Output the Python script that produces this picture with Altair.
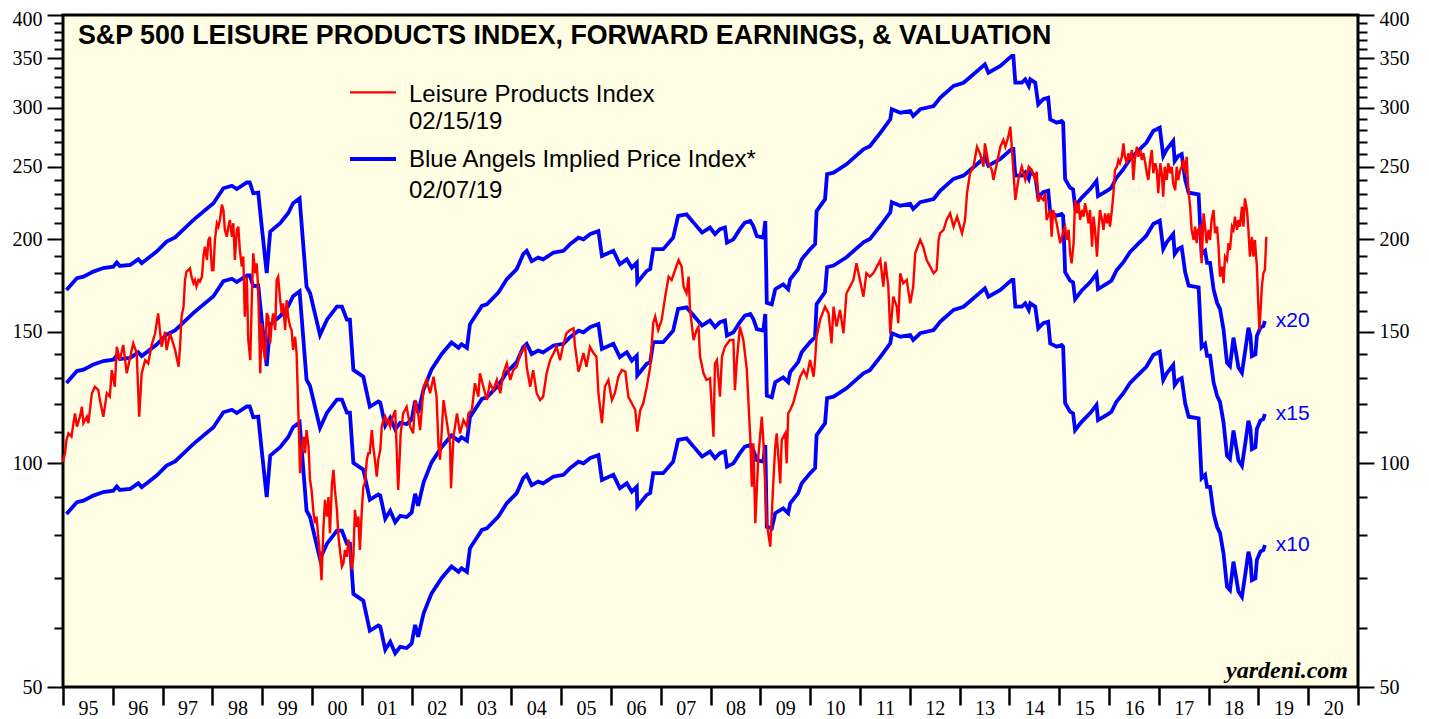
import altair as alt
import pandas as pd

TITLE = "S&P 500 LEISURE PRODUCTS INDEX, FORWARD EARNINGS, & VALUATION"
RED_LABEL = "Leisure Products Index"
RED_DATE = "02/15/19"
BLUE_LABEL = "Blue Angels Implied Price Index*"
BLUE_DATE = "02/07/19"
SOURCE = "yardeni.com"

# S&P 500 Leisure Products Index: (decimal year, index level)
red_points = [
    (1995.00, 100.4), (1995.04, 103.1), (1995.07, 107.4), (1995.11, 109.6), (1995.17, 108.5),
    (1995.24, 116.6), (1995.28, 111.9), (1995.34, 115.4), (1995.38, 119.0), (1995.41, 113.1),
    (1995.48, 115.4), (1995.51, 113.1), (1995.58, 124.1), (1995.64, 126.6), (1995.71, 125.3),
    (1995.74, 121.5), (1995.81, 115.4), (1995.88, 124.1), (1995.94, 122.8), (1995.98, 133.3),
    (1996.04, 126.6), (1996.08, 143.3), (1996.14, 137.5), (1996.21, 144.1), (1996.28, 132.0),
    (1996.35, 138.9), (1996.41, 144.8), (1996.48, 140.4), (1996.53, 115.4), (1996.58, 132.0),
    (1996.65, 137.5), (1996.71, 136.1), (1996.78, 144.1), (1996.85, 149.4), (1996.91, 158.9),
    (1996.98, 143.3), (1997.05, 150.1), (1997.08, 141.9), (1997.15, 149.4), (1997.25, 141.9),
    (1997.32, 134.7),
    (1997.35, 143.3), (1997.38, 157.3), (1997.42, 162.2), (1997.45, 176.2), (1997.48, 180.8),
    (1997.52, 181.7), (1997.55, 182.6), (1997.58, 178.0), (1997.62, 174.4), (1997.65, 176.2),
    (1997.68, 172.6), (1997.72, 176.2), (1997.75, 175.3), (1997.79, 178.0), (1997.82, 189.4),
    (1997.85, 195.3), (1997.89, 187.4), (1997.92, 199.4), (1997.95, 201.4), (1997.99, 181.7),
    (1998.02, 181.7), (1998.05, 199.4), (1998.09, 210.0), (1998.12, 207.8), (1998.15, 212.1),
    (1998.19, 222.4), (1998.22, 218.8), (1998.25, 205.7), (1998.29, 201.4), (1998.32, 207.8),
    (1998.35, 212.1), (1998.39, 201.4), (1998.42, 210.0), (1998.45, 187.4), (1998.49, 205.7),
    (1998.52, 207.8), (1998.55, 193.3), (1998.59, 183.6), (1998.62, 189.4), (1998.65, 157.3),
    (1998.69, 178.0), (1998.72, 146.3), (1998.76, 137.5), (1998.79, 165.6), (1998.82, 191.3),
    (1998.86, 179.9), (1998.89, 185.5), (1998.92, 170.8), (1998.96, 132.0), (1998.99, 154.1),
    (1999.02, 143.3), (1999.06, 137.5), (1999.09, 158.9), (1999.12, 157.3), (1999.16, 144.8),
    (1999.19, 154.1), (1999.22, 158.9), (1999.26, 150.9), (1999.29, 176.2), (1999.32, 178.0),
    (1999.36, 165.6), (1999.39, 158.9), (1999.42, 163.9), (1999.46, 150.9), (1999.49, 165.6),
    (1999.52, 157.3), (1999.56, 152.5), (1999.59, 150.9), (1999.62, 141.9), (1999.66, 147.8),
    (1999.69, 140.4), (1999.72, 120.3), (1999.76, 96.9), (1999.79, 104.1), (1999.83, 108.5),
    (1999.86, 103.1), (1999.89, 110.7), (1999.93, 105.2), (1999.96, 94.9), (1999.99, 92.0),
    (2000.03, 85.6), (2000.06, 83.0), (2000.09, 84.7), (2000.13, 78.9), (2000.16, 74.8),
    (2000.19, 69.6), (2000.23, 82.1), (2000.26, 89.2), (2000.30, 84.7), (2000.33, 90.0),
    (2000.36, 80.5), (2000.40, 93.9), (2000.43, 97.9), (2000.46, 92.0), (2000.50, 86.5),
    (2000.53, 79.7), (2000.56, 76.4), (2000.60, 72.6), (2000.63, 73.3), (2000.66, 76.4),
    (2000.70, 74.8), (2000.73, 78.9), (2000.76, 76.4), (2000.80, 71.9), (2000.83, 74.8),
    (2000.86, 86.5), (2000.90, 82.1), (2000.93, 84.7), (2000.96, 76.4), (2001.00, 86.5),
    (2001.03, 93.0), (2001.06, 93.9), (2001.10, 101.0), (2001.13, 103.1), (2001.16, 103.1),
    (2001.20, 110.7), (2001.23, 105.2), (2001.27, 99.9), (2001.30, 95.9), (2001.33, 101.0),
    (2001.37, 104.1), (2001.40, 111.9), (2001.43, 114.2), (2001.47, 115.4), (2001.50, 113.1),
    (2001.53, 114.2), (2001.57, 111.9),
    (2001.60, 114.2), (2001.67, 117.8), (2001.73, 92.0), (2001.78, 109.6), (2001.83, 116.6),
    (2001.90, 119.0), (2001.97, 111.9), (2002.03, 109.6), (2002.07, 121.5), (2002.13, 116.6),
    (2002.17, 110.7), (2002.24, 126.6), (2002.30, 129.3), (2002.37, 124.1), (2002.44, 130.6),
    (2002.50, 122.8), (2002.54, 105.2), (2002.57, 101.0), (2002.64, 121.5), (2002.70, 114.2),
    (2002.77, 106.3), (2002.79, 92.5), (2002.84, 108.5), (2002.91, 116.6), (2002.97, 109.6),
    (2003.04, 114.2), (2003.11, 111.9), (2003.14, 116.6), (2003.21, 117.8), (2003.27, 128.0),
    (2003.34, 122.8), (2003.37, 132.0), (2003.44, 126.6), (2003.51, 121.5), (2003.57, 128.0),
    (2003.64, 125.3), (2003.71, 129.3), (2003.78, 124.1), (2003.84, 132.0), (2003.91, 136.1),
    (2003.98, 129.3), (2004.04, 133.3), (2004.11, 134.7), (2004.18, 140.5), (2004.24, 141.9),
    (2004.28, 143.3), (2004.31, 134.7), (2004.38, 126.6), (2004.44, 133.3), (2004.51, 124.1),
    (2004.58, 121.5), (2004.64, 122.8), (2004.71, 132.0), (2004.78, 137.5), (2004.85, 140.5),
    (2004.91, 143.3), (2004.98, 137.5), (2005.05, 144.8), (2005.11, 149.4), (2005.18, 150.9),
    (2005.25, 151.7), (2005.28, 143.3), (2005.35, 132.7), (2005.38, 134.7), (2005.45, 140.5),
    (2005.51, 134.7), (2005.58, 143.3), (2005.65, 140.5), (2005.71, 138.9), (2005.75, 124.1),
    (2005.82, 113.1), (2005.88, 126.6), (2005.95, 129.3), (2006.02, 121.5), (2006.08, 124.1),
    (2006.15, 130.6), (2006.22, 133.3), (2006.29, 132.7), (2006.35, 122.8), (2006.42, 120.3),
    (2006.49, 117.8), (2006.53, 110.2), (2006.59, 117.8), (2006.65, 120.3), (2006.72, 126.6),
    (2006.79, 134.7), (2006.85, 154.1), (2006.89, 157.3), (2006.95, 150.9), (2007.02, 155.7),
    (2007.09, 167.3), (2007.16, 178.0), (2007.22, 176.2), (2007.29, 181.7), (2007.36, 187.4),
    (2007.42, 183.6), (2007.46, 172.6), (2007.52, 169.1), (2007.56, 178.0), (2007.59, 160.6),
    (2007.66, 146.3), (2007.72, 150.9), (2007.76, 152.5), (2007.79, 138.9), (2007.86, 132.0),
    (2007.92, 129.3), (2007.99, 130.0), (2008.06, 108.5), (2008.09, 136.1), (2008.13, 137.5),
    (2008.19, 122.8), (2008.23, 138.9), (2008.29, 143.3), (2008.39, 146.3), (2008.46, 146.3),
    (2008.49, 125.3), (2008.53, 137.5), (2008.59, 152.5), (2008.66, 146.3), (2008.73, 133.3),
    (2008.80, 107.4), (2008.83, 92.9), (2008.86, 106.3), (2008.90, 83.0), (2008.96, 102.0),
    (2009.03, 115.4), (2009.06, 107.4), (2009.13, 83.0), (2009.20, 77.2), (2009.26, 93.9),
    (2009.30, 105.2), (2009.33, 109.6), (2009.40, 93.9), (2009.43, 107.4), (2009.50, 109.6),
    (2009.53, 99.9), (2009.56, 116.6), (2009.60, 117.8), (2009.66, 120.3), (2009.73, 125.3),
    (2009.80, 130.6), (2009.87, 133.3), (2009.93, 130.6), (2010.00, 137.5), (2010.07, 130.6),
    (2010.10, 137.5), (2010.13, 147.8), (2010.20, 155.7), (2010.30, 162.2), (2010.37, 158.9),
    (2010.43, 144.8), (2010.47, 162.2), (2010.53, 152.5), (2010.60, 160.6), (2010.67, 149.4),
    (2010.73, 169.1), (2010.80, 172.6), (2010.87, 176.2), (2010.93, 185.5), (2011.00, 176.2),
    (2011.07, 167.3), (2011.13, 179.9), (2011.20, 178.0), (2011.27, 179.9), (2011.34, 183.6),
    (2011.41, 187.4), (2011.47, 172.6), (2011.51, 186.4), (2011.57, 172.6), (2011.61, 149.4),
    (2011.67, 167.3), (2011.74, 162.2), (2011.77, 154.1), (2011.81, 179.9), (2011.87, 174.4),
    (2011.94, 176.2), (2012.01, 163.9), (2012.07, 172.6), (2012.11, 191.3), (2012.21, 199.4),
    (2012.27, 195.3), (2012.34, 187.4), (2012.41, 183.6), (2012.48, 179.9), (2012.54, 181.7),
    (2012.58, 199.4), (2012.61, 203.6), (2012.68, 205.7), (2012.74, 212.1), (2012.81, 216.5),
    (2012.88, 207.8), (2012.95, 214.3), (2013.01, 207.8), (2013.05, 203.6), (2013.11, 212.1),
    (2013.15, 230.4), (2013.21, 245.1), (2013.28, 250.1), (2013.35, 266.1), (2013.41, 260.7),
    (2013.48, 250.1), (2013.51, 268.9), (2013.58, 252.8), (2013.65, 247.6), (2013.68, 240.1),
    (2013.75, 252.8), (2013.82, 266.1), (2013.88, 271.7), (2013.92, 266.1), (2013.98, 274.5),
    (2014.02, 283.1), (2014.08, 247.6), (2014.12, 225.7), (2014.18, 240.1), (2014.25, 250.1),
    (2014.32, 240.1), (2014.39, 250.1), (2014.45, 247.6), (2014.52, 240.1), (2014.55, 246.3),
    (2014.58, 224.5), (2014.62, 228.0), (2014.68, 225.7), (2014.72, 230.4), (2014.75, 212.1),
    (2014.82, 218.8), (2014.85, 201.4), (2014.88, 218.8), (2014.95, 210.0),
    (2015.02, 197.4), (2015.09, 205.7), (2015.12, 207.8), (2015.15, 199.4), (2015.19, 205.7),
    (2015.22, 191.3), (2015.25, 185.5), (2015.29, 197.4), (2015.32, 225.7), (2015.36, 216.5),
    (2015.39, 223.4), (2015.42, 212.1), (2015.46, 218.8), (2015.49, 214.3), (2015.52, 223.4),
    (2015.56, 216.5), (2015.59, 210.0), (2015.62, 218.8), (2015.66, 195.3), (2015.69, 214.3),
    (2015.72, 205.7), (2015.76, 189.4), (2015.79, 205.7), (2015.82, 218.8), (2015.86, 212.1),
    (2015.89, 205.7), (2015.92, 216.5), (2015.96, 210.0), (2015.99, 216.5), (2016.02, 207.8),
    (2016.06, 218.8), (2016.09, 230.4), (2016.12, 247.6), (2016.16, 250.1), (2016.19, 255.4),
    (2016.22, 252.8), (2016.26, 258.0), (2016.29, 268.9), (2016.32, 258.0), (2016.36, 252.8),
    (2016.39, 260.7), (2016.42, 255.4), (2016.46, 263.4), (2016.49, 240.1), (2016.52, 255.4),
    (2016.56, 266.1), (2016.59, 258.0), (2016.63, 263.4), (2016.66, 255.4), (2016.69, 260.7),
    (2016.73, 252.8), (2016.76, 245.1), (2016.79, 240.1), (2016.83, 255.4), (2016.86, 263.4),
    (2016.89, 245.1), (2016.93, 252.8), (2016.96, 247.6), (2016.99, 230.4), (2017.03, 252.8),
    (2017.06, 245.1), (2017.09, 228.0), (2017.12, 250.1), (2017.16, 240.1), (2017.19, 252.8),
    (2017.23, 245.1), (2017.26, 250.1), (2017.29, 237.6), (2017.33, 232.7), (2017.36, 250.1),
    (2017.39, 240.1), (2017.43, 247.6), (2017.46, 250.1), (2017.49, 255.4), (2017.53, 245.1),
    (2017.56, 258.0), (2017.59, 235.1), (2017.63, 221.0), (2017.66, 205.7), (2017.70, 199.4),
    (2017.73, 207.8), (2017.76, 197.4), (2017.79, 205.7), (2017.83, 207.8), (2017.86, 185.5),
    (2017.90, 216.5), (2017.93, 207.8), (2017.96, 197.4), (2018.00, 205.7), (2018.03, 199.4),
    (2018.06, 212.1), (2018.10, 218.8), (2018.13, 203.6), (2018.17, 207.8), (2018.20, 195.3),
    (2018.23, 178.0), (2018.27, 183.6), (2018.30, 174.4), (2018.33, 189.4), (2018.37, 187.4),
    (2018.40, 197.4), (2018.43, 193.3), (2018.47, 207.8), (2018.50, 205.7), (2018.53, 214.3),
    (2018.57, 205.7), (2018.60, 212.1), (2018.63, 207.8), (2018.67, 221.0), (2018.70, 207.8),
    (2018.73, 226.8), (2018.77, 218.8), (2018.80, 205.7), (2018.83, 189.4), (2018.87, 201.4),
    (2018.90, 189.4), (2018.93, 199.4), (2018.97, 183.6), (2019.00, 162.2), (2019.02, 151.0),
    (2019.05, 163.0), (2019.07, 172.6), (2019.10, 179.9), (2019.13, 181.7), (2019.16, 201.4),
]

# Forward earnings per share: (decimal year, EPS), read from the x10 / x20 lines
eps_points = [
    (1995.07, 8.54), (1995.28, 8.86), (1995.41, 8.90), (1995.61, 9.04), (1995.81, 9.14),
    (1996.01, 9.18), (1996.08, 9.30), (1996.14, 9.20), (1996.35, 9.23), (1996.51, 9.39),
    (1996.58, 9.28), (1996.88, 9.62), (1997.08, 9.92), (1997.25, 10.05), (1997.62, 10.61),
    (1998.02, 11.17), (1998.22, 11.70), (1998.39, 11.79), (1998.49, 11.67), (1998.69, 11.91),
    (1998.75, 11.91), (1998.82, 11.52), (1998.92, 11.54), (1998.99, 10.39), (1999.09, 9.00),
    (1999.16, 10.23), (1999.36, 10.50), (1999.52, 10.83), (1999.62, 11.17), (1999.75, 11.34),
    (1999.89, 8.63), (1999.96, 8.46), (2000.16, 7.43), (2000.30, 7.79), (2000.50, 8.11),
    (2000.60, 8.11), (2000.70, 7.79), (2000.76, 7.79), (2000.83, 6.67), (2001.03, 6.53),
    (2001.16, 5.95), (2001.33, 6.05), (2001.37, 6.03), (2001.47, 5.61), (2001.57, 5.75),
    (2001.67, 5.55), (2001.77, 5.66), (2001.90, 5.64), (2002.00, 5.72), (2002.07, 6.06),
    (2002.13, 5.84), (2002.24, 6.28), (2002.40, 6.68), (2002.60, 7.00), (2002.80, 7.26),
    (2002.94, 7.14), (2003.00, 7.22), (2003.11, 7.14), (2003.17, 7.68), (2003.41, 8.13),
    (2003.51, 8.17), (2003.74, 8.47), (2003.91, 8.83), (2004.11, 9.11), (2004.24, 9.54),
    (2004.31, 9.64), (2004.41, 9.34), (2004.54, 9.44), (2004.64, 9.39), (2004.85, 9.59),
    (2005.05, 9.64), (2005.18, 9.84), (2005.35, 10.04), (2005.45, 9.99), (2005.58, 10.15),
    (2005.75, 10.25), (2005.82, 9.49), (2006.05, 9.64), (2006.18, 9.25), (2006.32, 9.39),
    (2006.42, 9.15), (2006.52, 9.29), (2006.53, 8.74), (2006.72, 9.06), (2006.79, 9.11),
    (2006.85, 9.69), (2007.05, 9.69), (2007.25, 10.04), (2007.35, 10.74), (2007.52, 10.79),
    (2007.66, 10.52), (2007.83, 10.20), (2007.99, 10.36), (2008.09, 10.15), (2008.19, 10.31),
    (2008.29, 10.36), (2008.33, 9.89), (2008.46, 9.99), (2008.59, 10.31), (2008.69, 10.52),
    (2008.80, 10.57), (2008.86, 10.41), (2008.93, 10.09), (2009.06, 10.04), (2009.10, 10.57),
    (2009.13, 8.21), (2009.23, 8.17), (2009.30, 8.56), (2009.46, 8.69), (2009.56, 8.56),
    (2009.60, 8.83), (2009.76, 9.11), (2009.83, 9.39), (2010.00, 9.69), (2010.10, 9.84),
    (2010.13, 10.90), (2010.30, 11.31), (2010.34, 12.22), (2010.47, 12.28), (2010.73, 12.60),
    (2011.07, 13.20), (2011.20, 13.33), (2011.41, 13.89), (2011.61, 14.48), (2011.64, 14.94),
    (2011.81, 14.78), (2012.01, 14.86), (2012.07, 14.63), (2012.21, 14.94), (2012.48, 15.09),
    (2012.61, 15.48), (2012.88, 16.06), (2013.08, 16.22), (2013.28, 16.65), (2013.51, 17.17),
    (2013.58, 16.73), (2013.82, 17.08), (2014.05, 17.62), (2014.08, 17.62), (2014.12, 16.22),
    (2014.25, 16.22), (2014.32, 16.39), (2014.39, 16.06), (2014.42, 16.39), (2014.52, 16.22),
    (2014.58, 15.17), (2014.68, 15.41), (2014.78, 15.48), (2014.82, 14.48), (2014.95, 14.33),
    (2015.05, 14.41), (2015.08, 14.33), (2015.12, 12.03), (2015.22, 11.72), (2015.28, 11.66),
    (2015.32, 11.07), (2015.45, 11.36), (2015.62, 11.66), (2015.75, 11.97), (2015.78, 11.42),
    (2015.95, 11.60), (2016.05, 11.72), (2016.15, 12.09), (2016.29, 12.41), (2016.42, 12.80),
    (2016.52, 13.00), (2016.75, 13.47), (2016.89, 13.97), (2017.02, 14.11), (2017.09, 12.93),
    (2017.16, 13.20), (2017.29, 13.54), (2017.32, 12.73), (2017.39, 12.93), (2017.46, 13.00),
    (2017.53, 12.03), (2017.60, 11.54), (2017.80, 11.48), (2017.86, 9.54), (2017.93, 9.64),
    (2017.97, 9.29), (2018.03, 9.29), (2018.10, 8.56), (2018.17, 8.21), (2018.23, 8.05),
    (2018.30, 7.56), (2018.37, 6.82), (2018.43, 6.75), (2018.50, 7.37), (2018.60, 6.72),
    (2018.67, 6.61), (2018.74, 7.11), (2018.80, 7.60), (2018.84, 7.41), (2018.87, 6.96),
    (2018.94, 7.00), (2018.97, 7.41), (2019.04, 7.60), (2019.10, 7.64), (2019.13, 7.76),
]

multiples = [10, 15, 20]
year_ticks = list(range(1995, 2022))
major_y = [50, 100, 150, 200, 250, 300, 350, 400]
minor_y = [v for v in range(50, 401, 10) if v % 50]

RED = "#FF0000"
BLUE = "#0000FF"
BG = "#FFFEE4"

red_df = pd.DataFrame(red_points, columns=["year", "value"])
eps_df = pd.DataFrame(eps_points, columns=["year", "eps"])
blue_df = pd.concat(
    [eps_df.assign(value=eps_df["eps"] * m, mult=f"x{m}") for m in multiples],
    ignore_index=True,
)
last_df = blue_df.groupby("mult", as_index=False).last()

xs = alt.Scale(domain=[1995, 2021], nice=False, zero=False)
ys = alt.Scale(type="log", domain=[50, 400], nice=False)

x_axis = alt.Axis(
    values=year_ticks, tickSize=18, tickWidth=2.5, tickColor="black",
    domain=False, grid=False, title=None,
    labelExpr="datum.value >= 2021 ? '' : substring(toString(datum.value), 2, 4)",
    labelOffset=25, labelPadding=-7, labelFont="Liberation Serif", labelFontSize=20,
    labelColor="black", labelOverlap=False, labelFlush=False, labelBound=False,
)
x_enc = alt.X("year:Q", scale=xs, axis=x_axis)


def y_axis(orient, values, tick, labels):
    kw = dict(
        orient=orient, values=values, tickSize=tick, tickWidth=2, tickColor="black",
        domain=False, grid=False, title=None, labels=labels,
    )
    if labels:
        kw.update(format="d", labelFont="Liberation Serif", labelFontSize=20,
                  labelColor="black", labelPadding=5, labelOverlap=False,
                  labelFlush=False, labelBound=False,
                  labelOffset={"condition": {"test": "datum.value >= 400", "value": 4.5},
                               "value": 0})
    return alt.Axis(**kw)


left_major = y_axis("left", major_y, 16, True)

red_line = alt.Chart(red_df).mark_line(color=RED, strokeWidth=2.4).encode(
    x=x_enc, y=alt.Y("value:Q", scale=ys, axis=left_major)
)
blue_lines = alt.Chart(blue_df).mark_line(color=BLUE, strokeWidth=3.8).encode(
    x=x_enc, y=alt.Y("value:Q", scale=ys, axis=left_major),
    detail="mult:N",
)
mult_labels = alt.Chart(last_df).mark_text(
    align="left", baseline="middle", dx=11, color=BLUE, font="Liberation Sans", fontSize=21
).encode(
    x=x_enc, y=alt.Y("value:Q", scale=ys, axis=left_major),
    text="mult:N",
)


def text_layer(txt, x, y, **style):
    return alt.Chart(pd.DataFrame({"t": [txt]})).mark_text(**style).encode(
        x=alt.value(x), y=alt.value(y), text="t:N"
    )


title = text_layer(TITLE, 15, 29, align="left", baseline="alphabetic",
                   font="Liberation Sans", fontWeight="bold", fontSize=26.8, color="black")
leg_style = dict(align="left", baseline="alphabetic", font="Liberation Sans",
                 fontSize=24, color="black")
leg1 = text_layer(RED_LABEL, 346, 86.7, **leg_style)
leg2 = text_layer(RED_DATE, 346, 114.3, **leg_style)
leg3 = text_layer(BLUE_LABEL, 346, 152.3, **leg_style)
leg4 = text_layer(BLUE_DATE, 346, 183.3, **leg_style)
dummy = pd.DataFrame({"k": [0]})
leg_red = alt.Chart(dummy).mark_rule(color=RED, strokeWidth=2.2).encode(
    x=alt.value(287), x2=alt.value(333), y=alt.value(77.3))
leg_blue = alt.Chart(dummy).mark_rule(color=BLUE, strokeWidth=3.8).encode(
    x=alt.value(287), x2=alt.value(333), y=alt.value(144))
source = text_layer(SOURCE, 1285, 663, align="right", baseline="alphabetic",
                    font="Liberation Serif", fontStyle="italic", fontWeight="bold",
                    fontSize=24, color="black")

main = alt.layer(blue_lines, red_line, mult_labels, title, leg1, leg2, leg3, leg4,
                 leg_red, leg_blue, source)


def ghost(orient, values, tick, labels):
    return alt.Chart(red_df).mark_line(strokeOpacity=0).encode(
        x=x_enc, y=alt.Y("value:Q", scale=ys, axis=y_axis(orient, values, tick, labels))
    )


chart = alt.layer(
    main,
    ghost("left", minor_y, 9, False),
    ghost("right", major_y, 16, True),
    ghost("right", minor_y, 9, False),
).resolve_scale(y="independent").properties(
    width=1295, height=672,
    autosize=alt.AutoSizeParams(type="none"),
    padding={"left": 55, "top": 7, "right": 56, "bottom": 33},
    background="white",
).configure_view(fill=BG, stroke="black", strokeWidth=3)

chart.save("out.html", embed_options={"renderer": "svg", "actions": False})
